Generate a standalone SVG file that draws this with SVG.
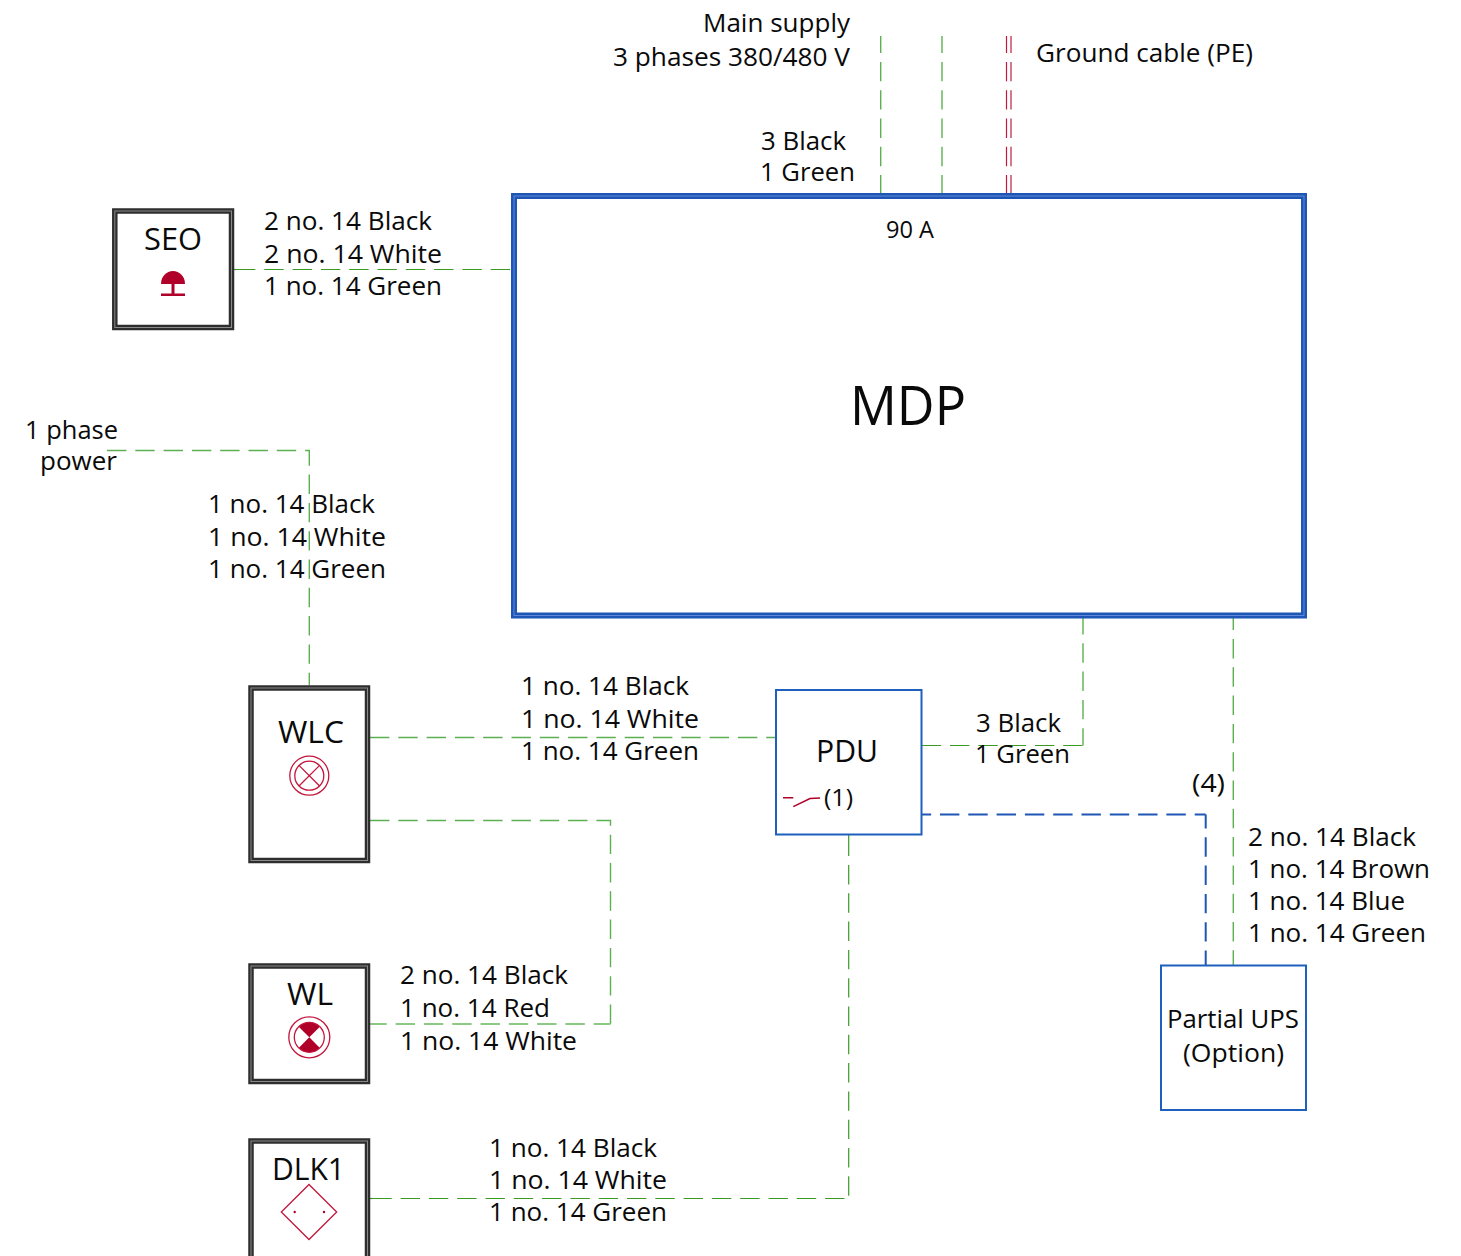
<svg xmlns="http://www.w3.org/2000/svg" width="1461" height="1256" viewBox="0 0 1461 1256">
<style>
text{font-family:"Open Sans","Noto Sans","Liberation Sans",sans-serif;fill:#0a0a0a;font-size:26px}
.big{font-size:31px}
.w{fill:none;stroke:#2e2e2e;stroke-width:5.5}
.wi{fill:none;stroke:#8a8a8a;stroke-width:1}
.g{fill:none;stroke:#3a9a22;stroke-width:1.2;stroke-dasharray:19.4 8.9}
.gm{fill:none;stroke:#5cb04f;stroke-width:1.4;stroke-dasharray:19.4 8.9}
.gl{fill:none;stroke:#8cc985;stroke-width:2;stroke-dasharray:19.4 8.9}
.r{fill:none;stroke:#c4163c;stroke-width:1.2;stroke-dasharray:19.4 8.9;stroke-dashoffset:2.4}
.rl{fill:none;stroke:#d8788e;stroke-width:2;stroke-dasharray:19.4 8.9;stroke-dashoffset:2.4}
.b{fill:none;stroke:#1f56b5;stroke-width:2;stroke-dasharray:19.4 8.9}
.box{fill:#fff;stroke:#1f5fbd;stroke-width:2}
.ic{fill:none;stroke:#c4163c;stroke-width:1.3}
.fill{fill:#b0002a}
</style>
<rect width="1461" height="1256" fill="#fff"/>
<g id="connectors">
<path class="gm" style="stroke-dashoffset:2.4" d="M880.700 36V193"/>
<path class="gl" style="stroke-dashoffset:2.4" d="M942 36V193"/>
<path class="r" d="M1006.500 36V193"/>
<path class="rl" d="M1011 36V193"/>
<path class="g" d="M233.500 269.500H236.500"/>
<path class="g" d="M236 269.500H511"/>
<path class="gm" d="M107 450.500H309.300V685"/>
<path class="gm" d="M370 737.500H776"/>
<path class="gm" d="M370 820.500H610.500V1024"/>
<path class="gl" style="stroke-dashoffset:-25.700" d="M610.500 1024H370"/>
<path class="g" d="M921.700 745.500H1083"/>
<path class="gm" style="stroke-dashoffset:3" d="M1083 618V745.500"/>
<path class="b" style="stroke-dashoffset:10" d="M921.700 814.500H1205.700"/>
<path class="b" style="stroke-dashoffset:5.500" d="M1205.700 814.500V965"/>
<path class="gm" style="stroke-dashoffset:7.300" d="M1233.300 618V965"/>
<path class="g" d="M848.700 835V837M848.700 836.700V1198.500"/>
<path class="g" d="M370 1198.500H373"/>
<path class="g" style="stroke-dashoffset:26" d="M370 1198.500H849"/>
</g>
<g id="MDP">
<rect x="514" y="196" width="790" height="419.500" fill="#fff" stroke="#1f56b5" stroke-width="6"/>
<rect x="514" y="196" width="790" height="419.500" fill="none" stroke="#5c8ad6" stroke-width="1"/>
<text x="850" y="425" textLength="116" lengthAdjust="spacingAndGlyphs" style="font-size:54px">MDP</text>
<text x="886" y="238" textLength="48" lengthAdjust="spacingAndGlyphs" style="font-size:23px">90 A</text>
</g>
<g id="SEO">
<rect class="w" x="114.800" y="211" width="116.700" height="116.500" fill="#fff"/>
<rect class="wi" x="114.800" y="211" width="116.700" height="116.500"/>
<text class="big" x="144" y="250" textLength="58" lengthAdjust="spacingAndGlyphs">SEO</text>
<path class="fill" d="M161 284A12 13 0 0 1 185 284Z"/>
<path class="fill" d="M171.500 284h3v9.500h10.500v2.500h-24v-2.500h10.500z"/>
</g>
<g id="WLC">
<rect class="w" x="251" y="688" width="116.500" height="172.500" fill="#fff"/>
<rect class="wi" x="251" y="688" width="116.500" height="172.500"/>
<text class="big" x="278" y="743" textLength="66" lengthAdjust="spacingAndGlyphs">WLC</text>
<circle class="ic" cx="309.300" cy="775.700" r="19.500"/>
<circle class="ic" cx="309.300" cy="775.700" r="14.500"/>
<path class="ic" d="M299 765.400L319.600 786M319.600 765.400L299 786"/>
</g>
<g id="WL">
<rect class="w" x="251" y="966" width="116.500" height="115.500" fill="#fff"/>
<rect class="wi" x="251" y="966" width="116.500" height="115.500"/>
<text class="big" x="287" y="1005" textLength="46" lengthAdjust="spacingAndGlyphs">WL</text>
<circle class="ic" cx="309.300" cy="1037.300" r="20.500"/>
<path class="fill" d="M309.300 1037.300L298.700 1026.700A15 15 0 0 1 319.900 1026.700ZM309.300 1037.300L298.700 1047.900A15 15 0 0 0 319.900 1047.900Z"/>
<circle class="ic" cx="309.300" cy="1037.300" r="15"/>
</g>
<g id="DLK1">
<rect class="w" x="251" y="1141" width="116.500" height="130" fill="#fff"/>
<rect class="wi" x="251" y="1141" width="116.500" height="130"/>
<text class="big" x="272" y="1180" textLength="73" lengthAdjust="spacingAndGlyphs">DLK1</text>
<path class="ic" d="M309 1184.500L336.700 1212L309 1239.500L281.300 1212Z"/>
<circle class="fill" cx="294.700" cy="1212" r="1.200"/>
<circle class="fill" cx="324" cy="1212" r="1.200"/>
</g>
<g id="PDU">
<rect class="box" x="776" y="690" width="145.500" height="144.500"/>
<text class="big" x="816" y="762" textLength="62" lengthAdjust="spacingAndGlyphs">PDU</text>
<path fill="none" stroke="#b0002a" stroke-width="1.500" d="M783 797.800H793.300M793.300 806.700L810 798.500L820 798"/>
<text x="824" y="806" textLength="29" lengthAdjust="spacingAndGlyphs" style="font-size:23px">(1)</text>
</g>
<g id="UPS">
<rect class="box" x="1161" y="965.500" width="145" height="144.500"/>
<text x="1167" y="1028" textLength="132" lengthAdjust="spacingAndGlyphs">Partial UPS</text>
<text x="1183" y="1062" textLength="101" lengthAdjust="spacingAndGlyphs">(Option)</text>
</g>
<g id="labels">
<text x="703" y="32" textLength="147" lengthAdjust="spacingAndGlyphs">Main supply</text>
<text x="613" y="66" textLength="237" lengthAdjust="spacingAndGlyphs">3 phases 380/480 V</text>
<text x="1036" y="62" textLength="217" lengthAdjust="spacingAndGlyphs">Ground cable (PE)</text>
<text x="761" y="150" textLength="85" lengthAdjust="spacingAndGlyphs">3 Black</text>
<text x="760" y="181" textLength="95" lengthAdjust="spacingAndGlyphs">1 Green</text>
<text x="264" y="230" textLength="168" lengthAdjust="spacingAndGlyphs">2 no. 14 Black</text>
<text x="264" y="263" textLength="178" lengthAdjust="spacingAndGlyphs">2 no. 14 White</text>
<text x="264" y="295" textLength="178" lengthAdjust="spacingAndGlyphs">1 no. 14 Green</text>
<text x="25" y="439" textLength="93" lengthAdjust="spacingAndGlyphs">1 phase</text>
<text x="40" y="470" textLength="77" lengthAdjust="spacingAndGlyphs">power</text>
<text x="208" y="513" textLength="167" lengthAdjust="spacingAndGlyphs">1 no. 14 Black</text>
<text x="208" y="546" textLength="178" lengthAdjust="spacingAndGlyphs">1 no. 14 White</text>
<text x="208" y="578" textLength="178" lengthAdjust="spacingAndGlyphs">1 no. 14 Green</text>
<text x="521" y="695" textLength="168" lengthAdjust="spacingAndGlyphs">1 no. 14 Black</text>
<text x="521" y="728" textLength="178" lengthAdjust="spacingAndGlyphs">1 no. 14 White</text>
<text x="521" y="760" textLength="178" lengthAdjust="spacingAndGlyphs">1 no. 14 Green</text>
<text x="976" y="732" textLength="85" lengthAdjust="spacingAndGlyphs">3 Black</text>
<text x="975" y="763" textLength="95" lengthAdjust="spacingAndGlyphs">1 Green</text>
<text x="1192" y="792" textLength="33" lengthAdjust="spacingAndGlyphs">(4)</text>
<text x="1248" y="846" textLength="168" lengthAdjust="spacingAndGlyphs">2 no. 14 Black</text>
<text x="1248" y="878" textLength="182" lengthAdjust="spacingAndGlyphs">1 no. 14 Brown</text>
<text x="1248" y="910" textLength="157" lengthAdjust="spacingAndGlyphs">1 no. 14 Blue</text>
<text x="1248" y="942" textLength="178" lengthAdjust="spacingAndGlyphs">1 no. 14 Green</text>
<text x="400" y="984" textLength="168" lengthAdjust="spacingAndGlyphs">2 no. 14 Black</text>
<text x="400" y="1017" textLength="150" lengthAdjust="spacingAndGlyphs">1 no. 14 Red</text>
<text x="400" y="1050" textLength="177" lengthAdjust="spacingAndGlyphs">1 no. 14 White</text>
<text x="489" y="1157" textLength="168" lengthAdjust="spacingAndGlyphs">1 no. 14 Black</text>
<text x="489" y="1189" textLength="178" lengthAdjust="spacingAndGlyphs">1 no. 14 White</text>
<text x="489" y="1221" textLength="178" lengthAdjust="spacingAndGlyphs">1 no. 14 Green</text>
</g>
</svg>
